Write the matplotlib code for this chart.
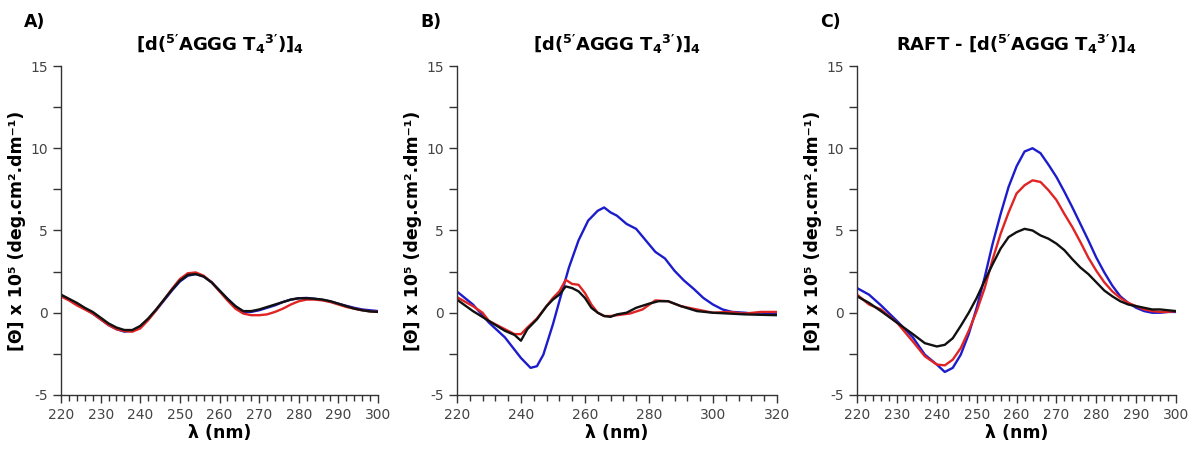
import matplotlib
matplotlib.use('Agg')
import matplotlib.pyplot as plt
from matplotlib.ticker import MultipleLocator

# ---- data ----
# panel A : 220-300 nm, 2 nm steps
wl_a = list(range(220, 301, 2))
a_black = [1.1, 0.85, 0.6, 0.3, 0.05, -0.3, -0.65, -0.9, -1.05, -1.05, -0.8, -0.35, 0.2, 0.8,
           1.4, 1.95, 2.3, 2.35, 2.2, 1.85, 1.35, 0.85, 0.4, 0.1, 0.1, 0.2, 0.35, 0.5, 0.65,
           0.8, 0.88, 0.88, 0.85, 0.8, 0.7, 0.55, 0.4, 0.25, 0.15, 0.08, 0.05]
a_red = [1.0, 0.75, 0.45, 0.2, -0.05, -0.4, -0.75, -1.0, -1.12, -1.15, -0.95, -0.45, 0.15, 0.8,
         1.45, 2.05, 2.4, 2.45, 2.25, 1.85, 1.3, 0.75, 0.25, -0.05, -0.15, -0.15, -0.1, 0.05, 0.25,
         0.5, 0.7, 0.8, 0.8, 0.75, 0.65, 0.5, 0.35, 0.25, 0.15, 0.08, 0.05]
a_blue = [1.05, 0.8, 0.55, 0.25, -0.05, -0.4, -0.75, -1.0, -1.15, -1.1, -0.85, -0.4, 0.15, 0.75,
          1.35, 1.9, 2.25, 2.35, 2.2, 1.85, 1.35, 0.85, 0.4, 0.05, 0.05, 0.15, 0.3, 0.45, 0.65,
          0.8, 0.88, 0.9, 0.85, 0.78, 0.68, 0.55, 0.42, 0.3, 0.2, 0.15, 0.1]

# panel B : 220-320 nm
wl_b_blue = [220, 225, 230, 235, 240, 243, 245, 247, 250, 252, 255, 258, 261, 264, 266, 268, 270,
             273, 276, 279, 282, 285, 288, 291, 294, 297, 300, 303, 306, 310, 315, 320]
b_blue = [1.29, 0.5, -0.6, -1.5, -2.75, -3.35, -3.25, -2.55, -0.7, 0.7, 2.75, 4.4, 5.6, 6.2, 6.4,
          6.1, 5.9, 5.4, 5.1, 4.4, 3.7, 3.3, 2.55, 1.95, 1.45, 0.9, 0.5, 0.2, 0.05, 0.0, -0.1, 0.0]
wl_b_black = [220, 225, 230, 235, 238, 240, 242, 245, 248, 250, 252, 254, 256, 258, 260, 262, 264,
              266, 268, 270, 273, 276, 280, 283, 286, 290, 295, 300, 310, 320]
b_black = [0.8, 0.1, -0.5, -1.1, -1.35, -1.7, -1.0, -0.4, 0.4, 0.8, 1.1, 1.6, 1.5, 1.3, 0.9, 0.3,
           0.0, -0.2, -0.25, -0.1, 0.0, 0.3, 0.55, 0.7, 0.7, 0.4, 0.1, 0.0, -0.1, -0.15]
wl_b_red = [220, 225, 228, 230, 235, 238, 240, 242, 245, 248, 250, 252, 254, 256, 258, 260, 262,
            264, 266, 268, 270, 274, 278, 282, 286, 290, 295, 300, 305, 310, 315, 320]
b_red = [0.95, 0.4, 0.0, -0.5, -1.0, -1.3, -1.3, -0.9, -0.35, 0.4, 0.9, 1.3, 2.0, 1.75, 1.7, 1.2,
         0.5, 0.0, -0.2, -0.2, -0.15, -0.05, 0.2, 0.75, 0.7, 0.4, 0.2, 0.0, 0.05, -0.05, 0.05, 0.05]

# panel C : 220-300 nm
wl_c = [220, 223, 226, 230, 234, 237, 240, 242, 244, 246, 248, 250, 252, 254, 256, 258, 260, 262,
        264, 266, 268, 270, 272, 274, 276, 278, 280, 282, 284, 286, 288, 290, 292, 294, 296, 298, 300]
c_blue = [1.5, 1.1, 0.45, -0.5, -1.5, -2.55, -3.15, -3.6, -3.35, -2.55, -1.3, 0.3, 2.15, 4.2, 6.0,
          7.65, 8.9, 9.8, 10.0, 9.7, 9.0, 8.25, 7.35, 6.4, 5.4, 4.4, 3.35, 2.45, 1.65, 1.0, 0.6, 0.3,
          0.1, 0.0, 0.0, 0.05, 0.05]
c_red = [1.1, 0.5, 0.2, -0.6, -1.75, -2.65, -3.15, -3.2, -2.85, -2.15, -1.1, 0.1, 1.5, 3.25, 4.8,
         6.1, 7.25, 7.75, 8.05, 7.95, 7.45, 6.85, 6.0, 5.2, 4.3, 3.35, 2.55, 1.85, 1.3, 0.9, 0.6, 0.4,
         0.2, 0.1, 0.05, 0.05, 0.1]
c_black = [1.0, 0.6, 0.1, -0.6, -1.3, -1.85, -2.05, -1.95, -1.55, -0.8, 0.0, 0.9, 1.95, 2.95, 3.9,
           4.6, 4.9, 5.1, 5.0, 4.7, 4.5, 4.2, 3.8, 3.25, 2.75, 2.35, 1.85, 1.35, 1.0, 0.7, 0.5, 0.4,
           0.3, 0.2, 0.2, 0.15, 0.1]

BLUE = '#1c1ccc'
RED = '#e02424'
BLACK = '#111111'

seq = r'[d($^{5\prime}$AGGG T$_{4}$$^{3\prime}$)]$_{4}$'
titles = [seq, seq, 'RAFT - ' + seq]
letters = ['A)', 'B)', 'C)']
ylabel = '[Θ] x 10⁵ (deg.cm².dm⁻¹)'

plt.rcParams['axes.unicode_minus'] = False
plt.rcParams['mathtext.fontset'] = 'custom'
plt.rcParams['mathtext.rm'] = 'DejaVu Sans:bold'
plt.rcParams['mathtext.it'] = 'DejaVu Sans:bold'
plt.rcParams['mathtext.bf'] = 'DejaVu Sans:bold'

fig = plt.figure(figsize=(11.94, 4.49), dpi=100)
boxes = [[0.0511, 0.1203, 0.2655, 0.7327],
         [0.3827, 0.1203, 0.2680, 0.7327],
         [0.7178, 0.1203, 0.2672, 0.7327]]

series = [
    [(wl_a, a_blue, BLUE), (wl_a, a_red, RED), (wl_a, a_black, BLACK)],
    [(wl_b_blue, b_blue, BLUE), (wl_b_red, b_red, RED), (wl_b_black, b_black, BLACK)],
    [(wl_c, c_blue, BLUE), (wl_c, c_red, RED), (wl_c, c_black, BLACK)],
]
xlims = [(220, 300), (220, 320), (220, 300)]
xmaj = [10, 20, 10]
xmin = [2, 4, 2]

for i in range(3):
    ax = fig.add_axes(boxes[i])
    for x, y, c in series[i]:
        ax.plot(x, y, color=c, lw=1.7)
    ax.set_xlim(*xlims[i])
    ax.set_ylim(-5, 15)
    ax.spines['top'].set_visible(False)
    ax.spines['right'].set_visible(False)
    for s in ['left', 'bottom']:
        ax.spines[s].set_color('#333333')
        ax.spines[s].set_linewidth(1.0)
    ax.xaxis.set_major_locator(MultipleLocator(xmaj[i]))
    ax.xaxis.set_minor_locator(MultipleLocator(xmin[i]))
    ax.yaxis.set_major_locator(MultipleLocator(5))
    ax.yaxis.set_minor_locator(MultipleLocator(2.5))
    ax.tick_params(which='major', direction='out', length=6, width=1, color='#333333',
                   labelsize=10, labelcolor='#444444')
    ax.tick_params(which='minor', direction='out', length=4, width=1, color='#333333')
    ax.tick_params(axis='y', which='minor', length=6)
    ax.set_xlabel('λ (nm)', fontsize=12.5, fontweight='bold', labelpad=1)
    ax.set_ylabel(ylabel, fontsize=12.5, fontweight='bold', labelpad=3)
    ax.set_title(titles[i], fontsize=13, fontweight='bold', pad=11)
    fig.text(boxes[i][0] - 0.031, 0.952, letters[i], fontsize=12.5, fontweight='bold',
             ha='left', va='center')

fig.savefig('out.png', dpi=100)
